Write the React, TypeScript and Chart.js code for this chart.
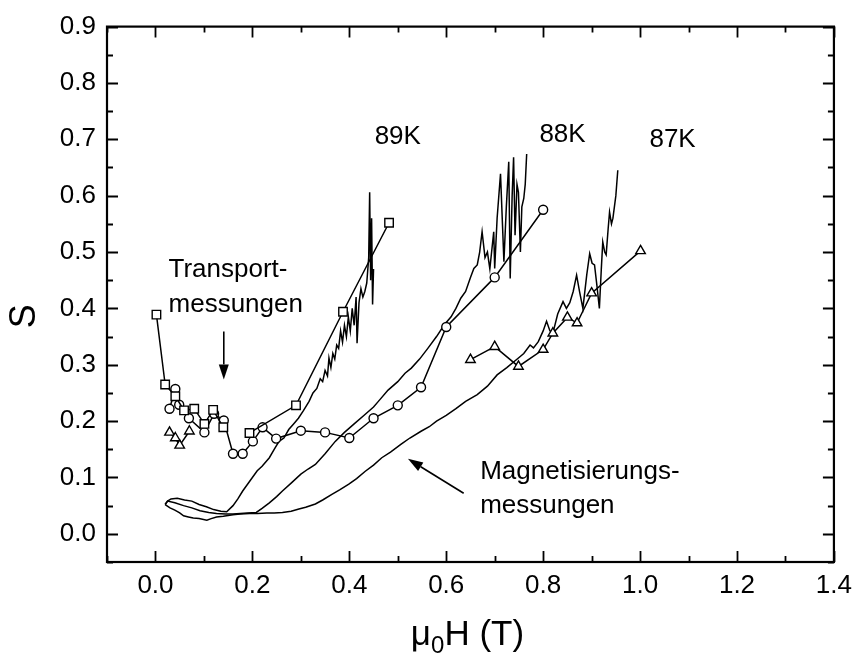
import React, { useEffect, useRef } from "react";
import { Chart, registerables } from "chart.js";

Chart.register(...registerables);

// Axis tick values
const xTickValues = [0.0, 0.2, 0.4, 0.6, 0.8, 1.0, 1.2, 1.4];
const yTickValues = [0.0, 0.1, 0.2, 0.3, 0.4, 0.5, 0.6, 0.7, 0.8, 0.9];

// Transport measurements (markers) — null marks a break in the connecting line
const sq89X = [0.002, 0.02, 0.041, 0.059, 0.08, 0.101, 0.119, 0.14, 0.17, 0.194, 0.29, 0.387, 0.482];
const sq89Y = [0.389, 0.265, 0.244, 0.219, 0.222, 0.195, 0.22, 0.189, null, 0.179, 0.228, 0.394, 0.552];

const ci88X = [0.029, 0.041, 0.049, 0.069, 0.101, 0.121, 0.141, 0.16, 0.18, 0.201, 0.221, 0.249, 0.3, 0.35, 0.4, 0.45, 0.5, 0.548, 0.6, 0.7, 0.8];
const ci88Y = [0.222, 0.257, 0.229, 0.205, 0.18, 0.213, 0.201, 0.142, 0.142, 0.164, 0.189, 0.169, 0.183, 0.18, 0.17, 0.205, 0.228, 0.26, 0.367, 0.455, 0.575];

const tr87X = [0.029, 0.041, 0.05, 0.07, 0.3, 0.65, 0.7, 0.749, 0.8, 0.82, 0.85, 0.87, 0.9, 1.001];
const tr87Y = [0.18, 0.17, 0.157, 0.182, null, 0.309, 0.332, 0.297, 0.327, 0.356, 0.384, 0.374, 0.427, 0.502];

// Magnetisation measurements (continuous curves)
const mag89X = [0.02, 0.025, 0.032, 0.045, 0.06, 0.075, 0.09, 0.105, 0.12, 0.135, 0.147, 0.16, 0.17, 0.18, 0.19, 0.2, 0.21, 0.22, 0.235, 0.245, 0.255, 0.265, 0.275, 0.285, 0.295, 0.305, 0.317, 0.325, 0.333, 0.34, 0.345, 0.35, 0.355, 0.358, 0.362, 0.366, 0.37, 0.374, 0.378, 0.382, 0.386, 0.39, 0.394, 0.398, 0.402, 0.406, 0.41, 0.414, 0.416, 0.42, 0.424, 0.428, 0.432, 0.436, 0.44, 0.442, 0.444, 0.446, 0.448, 0.45];
const mag89Y = [0.052, 0.058, 0.062, 0.063, 0.06, 0.058, 0.052, 0.048, 0.043, 0.04, 0.039, 0.05, 0.062, 0.076, 0.088, 0.1, 0.112, 0.12, 0.135, 0.15, 0.164, 0.17, 0.185, 0.195, 0.205, 0.218, 0.235, 0.25, 0.258, 0.275, 0.27, 0.29, 0.28, 0.312, 0.295, 0.32, 0.31, 0.335, 0.329, 0.36, 0.34, 0.37, 0.35, 0.385, 0.36, 0.4, 0.37, 0.42, 0.338, 0.41, 0.435, 0.42, 0.43, 0.445, 0.49, 0.606, 0.45, 0.56, 0.407, 0.47];

const mag88X = [0.02, 0.025, 0.04, 0.058, 0.075, 0.092, 0.11, 0.126, 0.145, 0.16, 0.175, 0.19, 0.208, 0.22, 0.235, 0.25, 0.262, 0.28, 0.3, 0.315, 0.33, 0.35, 0.371, 0.39, 0.41, 0.43, 0.45, 0.46, 0.48, 0.5, 0.515, 0.528, 0.545, 0.562, 0.58, 0.596, 0.61, 0.62, 0.63, 0.64, 0.65, 0.657, 0.664, 0.669, 0.674, 0.68, 0.685, 0.69, 0.698, 0.7, 0.705, 0.712, 0.716, 0.719, 0.724, 0.729, 0.732, 0.736, 0.739, 0.742, 0.746, 0.749, 0.753, 0.756, 0.76, 0.763, 0.766];
const mag88Y = [0.052, 0.058, 0.055, 0.05, 0.046, 0.041, 0.038, 0.036, 0.035, 0.035, 0.036, 0.037, 0.038, 0.045, 0.055, 0.066, 0.076, 0.09, 0.106, 0.115, 0.123, 0.142, 0.164, 0.18, 0.195, 0.21, 0.225, 0.235, 0.255, 0.27, 0.285, 0.294, 0.31, 0.329, 0.35, 0.371, 0.385, 0.4, 0.418, 0.43, 0.455, 0.471, 0.477, 0.5, 0.536, 0.49, 0.5, 0.47, 0.536, 0.471, 0.56, 0.639, 0.55, 0.483, 0.58, 0.66, 0.453, 0.6, 0.668, 0.53, 0.62, 0.606, 0.5, 0.58, 0.595, 0.62, 0.674];

const mag87X = [0.02, 0.03, 0.04, 0.05, 0.058, 0.068, 0.078, 0.09, 0.106, 0.115, 0.126, 0.14, 0.16, 0.175, 0.194, 0.21, 0.23, 0.245, 0.262, 0.28, 0.296, 0.31, 0.33, 0.345, 0.364, 0.38, 0.399, 0.415, 0.433, 0.45, 0.467, 0.485, 0.507, 0.525, 0.548, 0.565, 0.58, 0.6, 0.62, 0.64, 0.664, 0.685, 0.705, 0.725, 0.749, 0.76, 0.773, 0.78, 0.79, 0.8, 0.807, 0.814, 0.821, 0.83, 0.841, 0.848, 0.855, 0.862, 0.869, 0.875, 0.882, 0.89, 0.896, 0.901, 0.906, 0.911, 0.916, 0.92, 0.923, 0.927, 0.93, 0.934, 0.937, 0.941, 0.944, 0.95, 0.954];
const mag87Y = [0.052, 0.046, 0.042, 0.037, 0.032, 0.03, 0.028, 0.027, 0.024, 0.027, 0.03, 0.031, 0.034, 0.035, 0.036, 0.036, 0.037, 0.037, 0.038, 0.04, 0.044, 0.047, 0.053, 0.06, 0.07, 0.078, 0.088, 0.098, 0.111, 0.122, 0.135, 0.145, 0.159, 0.17, 0.182, 0.19, 0.2, 0.21, 0.222, 0.235, 0.247, 0.262, 0.282, 0.295, 0.312, 0.32, 0.335, 0.33, 0.341, 0.36, 0.377, 0.36, 0.359, 0.39, 0.412, 0.4, 0.41, 0.43, 0.459, 0.43, 0.4, 0.46, 0.497, 0.48, 0.477, 0.44, 0.4, 0.47, 0.518, 0.5, 0.495, 0.54, 0.571, 0.55, 0.56, 0.6, 0.645];

// Text labels (data coordinates)
const tempLabels = ["89K", "88K", "87K"];
const tempLabelX = [0.5, 0.84, 1.067];
const tempLabelY = [0.691, 0.695, 0.686];

const FONT = "'Liberation Sans', Arial, Helvetica, sans-serif";

function zip(xs: number[], ys: (number | null)[]) {
  return xs.map((x, i) => ({ x, y: ys[i] as any }));
}

function arrow(ctx: CanvasRenderingContext2D, x1: number, y1: number, x2: number, y2: number) {
  const ang = Math.atan2(y2 - y1, x2 - x1);
  const len = 15;
  const hw = 5;
  const bx = x2 - len * Math.cos(ang);
  const by = y2 - len * Math.sin(ang);
  ctx.beginPath();
  ctx.moveTo(x1, y1);
  ctx.lineTo(bx, by);
  ctx.lineWidth = 1.6;
  ctx.stroke();
  ctx.beginPath();
  ctx.moveTo(x2, y2);
  ctx.lineTo(bx + hw * Math.sin(ang), by - hw * Math.cos(ang));
  ctx.lineTo(bx - hw * Math.sin(ang), by + hw * Math.cos(ang));
  ctx.closePath();
  ctx.fill();
}

const decorPlugin = {
  id: "decor",
  afterDraw(chart: any) {
    const ctx: CanvasRenderingContext2D = chart.ctx;
    const xs = chart.scales.x;
    const ys = chart.scales.y;
    const a = chart.chartArea;
    ctx.save();
    ctx.strokeStyle = "#000";
    ctx.fillStyle = "#000";
    // frame
    ctx.lineWidth = 2.2;
    ctx.strokeRect(a.left, a.top, a.right - a.left, a.bottom - a.top);
    // ticks
    ctx.lineWidth = 1.8;
    ctx.beginPath();
    for (let k = -1; k <= 14; k++) {
      const v = k * 0.1;
      const major = k % 2 === 0;
      const len = major ? 11 : 6;
      const px = Math.round(xs.getPixelForValue(v)) + 0.5;
      ctx.moveTo(px, a.bottom);
      ctx.lineTo(px, a.bottom - len);
      ctx.moveTo(px, a.top);
      ctx.lineTo(px, a.top + len);
    }
    for (let k = -1; k <= 18; k++) {
      const v = k * 0.05;
      const major = k % 2 === 0;
      const len = major ? 11 : 6;
      const py = Math.round(ys.getPixelForValue(v)) + 0.5;
      ctx.moveTo(a.left, py);
      ctx.lineTo(a.left + len, py);
      ctx.moveTo(a.right, py);
      ctx.lineTo(a.right - len, py);
    }
    ctx.stroke();

    // temperature labels
    ctx.font = `26px ${FONT}`;
    ctx.textAlign = "center";
    ctx.textBaseline = "alphabetic";
    tempLabels.forEach((t, i) => {
      ctx.fillText(t, xs.getPixelForValue(tempLabelX[i]), ys.getPixelForValue(tempLabelY[i]));
    });

    // annotation texts
    ctx.textAlign = "left";
    ctx.fillText("Transport-", xs.getPixelForValue(0.027), ys.getPixelForValue(0.456));
    ctx.fillText("messungen", xs.getPixelForValue(0.027), ys.getPixelForValue(0.393));
    ctx.fillText("Magnetisierungs-", xs.getPixelForValue(0.67), ys.getPixelForValue(0.097));
    ctx.fillText("messungen", xs.getPixelForValue(0.67), ys.getPixelForValue(0.037));

    // arrows
    arrow(ctx, xs.getPixelForValue(0.141), ys.getPixelForValue(0.359), xs.getPixelForValue(0.141), ys.getPixelForValue(0.274));
    arrow(ctx, xs.getPixelForValue(0.636), ys.getPixelForValue(0.072), xs.getPixelForValue(0.521), ys.getPixelForValue(0.133));

    // y axis title
    ctx.save();
    ctx.translate(25, (a.top + a.bottom) / 2 + 22);
    ctx.rotate(-Math.PI / 2);
    ctx.font = `36px ${FONT}`;
    ctx.textAlign = "center";
    ctx.textBaseline = "middle";
    ctx.fillText("S", 0, 0);
    ctx.restore();

    // x axis title with subscript
    const big = `35px ${FONT}`;
    const small = `24px ${FONT}`;
    ctx.font = big;
    const wMu = ctx.measureText("μ").width;
    const wRest = ctx.measureText("H (T)").width;
    ctx.font = small;
    const wSub = ctx.measureText("0").width;
    const total = wMu + wSub + wRest;
    let cx = (a.left + a.right) / 2 - total / 2 - 3;
    const base = 645;
    ctx.textAlign = "left";
    ctx.font = big;
    ctx.fillText("μ", cx, base);
    cx += wMu;
    ctx.font = small;
    ctx.fillText("0", cx, base + 8);
    cx += wSub;
    ctx.font = big;
    ctx.fillText("H (T)", cx, base);
    ctx.restore();
  },
};

export default function App() {
  const ref = useRef<HTMLCanvasElement>(null);
  useEffect(() => {
    document.body.style.margin = "0";
    const lineCommon = {
      borderColor: "#000",
      borderWidth: 1.5,
      showLine: true,
      spanGaps: false,
      tension: 0,
    };
    const markerCommon = {
      ...lineCommon,
      pointBackgroundColor: "#fff",
      pointBorderColor: "#000",
      pointBorderWidth: 1.4,
      backgroundColor: "#fff",
    };
    const chart = new Chart(ref.current as HTMLCanvasElement, {
      type: "scatter",
      data: {
        datasets: [
          { ...markerCommon, label: "89K Transport", data: zip(sq89X, sq89Y), pointStyle: "rect", pointRadius: 6 },
          { ...markerCommon, label: "88K Transport", data: zip(ci88X, ci88Y), pointStyle: "circle", pointRadius: 4.5 },
          { ...markerCommon, label: "87K Transport", data: zip(tr87X, tr87Y), pointStyle: "triangle", pointRadius: 5.5 },
          { ...lineCommon, label: "89K Magnetisierung", data: zip(mag89X, mag89Y), pointRadius: 0 },
          { ...lineCommon, label: "88K Magnetisierung", data: zip(mag88X, mag88Y), pointRadius: 0 },
          { ...lineCommon, label: "87K Magnetisierung", data: zip(mag87X, mag87Y), pointRadius: 0 },
        ] as any,
      },
      options: {
        responsive: false,
        animation: false,
        layout: { padding: { left: 0, top: 24, right: 20, bottom: 0 } },
        plugins: {
          legend: { display: false },
          tooltip: { enabled: false },
        },
        scales: {
          x: {
            type: "linear",
            min: -0.1,
            max: 1.4,
            afterBuildTicks: (s: any) => {
              s.ticks = xTickValues.map((v) => ({ value: v }));
            },
            afterFit: (s: any) => {
              s.height = 93;
            },
            grid: { display: false, drawTicks: false },
            border: { display: false },
            ticks: {
              autoSkip: false,
              maxRotation: 0,
              padding: 8,
              color: "#000",
              font: { family: FONT, size: 26 },
              callback: (v: any) => Number(v).toFixed(1),
            },
          },
          y: {
            type: "linear",
            min: -0.05,
            max: 0.9,
            afterBuildTicks: (s: any) => {
              s.ticks = yTickValues.map((v) => ({ value: v }));
            },
            afterFit: (s: any) => {
              s.width = 107;
            },
            grid: { display: false, drawTicks: false },
            border: { display: false },
            ticks: {
              autoSkip: false,
              padding: 11,
              color: "#000",
              font: { family: FONT, size: 26 },
              callback: (v: any) => Number(v).toFixed(1),
            },
          },
        },
      } as any,
      plugins: [decorPlugin],
    });
    return () => chart.destroy();
  }, []);
  return (
    <div style={{ position: "absolute", left: 0, top: 0, width: 860, height: 655, background: "#fff" }}>
      <canvas ref={ref} width={860} height={655} style={{ display: "block" }} />
    </div>
  );
}
